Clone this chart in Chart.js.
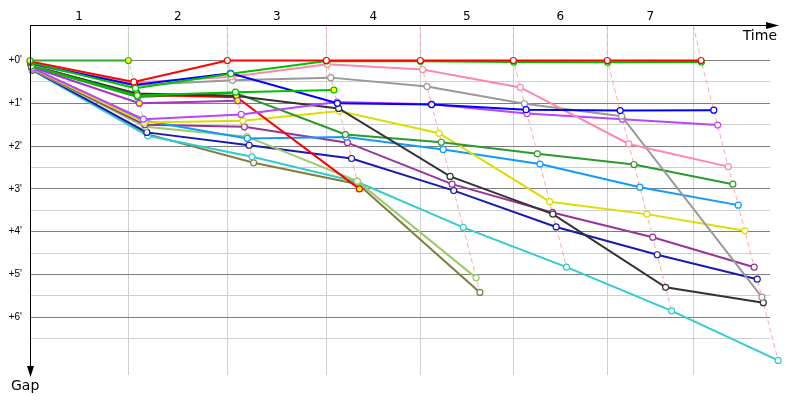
<!DOCTYPE html>
<html lang="en">
<head>
    <meta charset="utf-8" />
    <title>Gap chart</title>
    <script src="https://cdn.jsdelivr.net/npm/chart.js"></script>
    <style>
        body { margin: 0; background: #fff; }
    </style>
</head>
<body>
    <canvas id="gapChart" width="800" height="400"></canvas>
    <script>
        // lap labels and times (minutes) where the leader crosses the line
        const lapLabels = ['1', '2', '3', '4', '5', '6', '7'];
        const leaderTimes = [0, 8.94, 17.94, 26.94, 35.48, 43.94, 52.48, 61.0];
        const lapLineTimes = [8.94, 17.94, 26.94, 35.48, 43.94, 52.48, 60.3];
        const gapTicks = [0, 0.5, 1, 1.5, 2, 2.5, 3, 3.5, 4, 4.5, 5, 5.5, 6, 6.5];

        // gap to leader (minutes) at start and after each lap
        const gapsRed = [0.02, 0.50, 0, 0, 0, 0, 0, 0];
        const gapsGreen = [0.05, 0.65, 0.31, 0.01, 0.02, 0.035, 0.04, 0.035];
        const gapsGreenLead = [0, 0];
        const gapsGreen3 = [0.13, 0.82, 0.74, 0.69];
        const gapsBlue = [0.07, 0.57, 0.30, 1.00, 1.03, 1.15, 1.17, 1.16];
        const gapsPink = [0.06, 0.52, 0.38, 0.09, 0.21, 0.63, 1.95, 2.48];
        const gapsGray = [0.10, 0.58, 0.46, 0.40, 0.61, 1.01, 1.30, 5.53];
        const gapsViolet = [0.18, 1.37, 1.26, 0.97, 1.02, 1.24, 1.37, 1.51];
        const gapsMagenta = [0.15, 1.00, 0.94];
        const gapsBlack = [0.12, 0.77, 0.83, 1.12, 2.71, 3.59, 5.30, 5.66];
        const gapsRed2 = [0.11, 0.80, 0.86, 3.00];
        const gapsForest = [0.14, 0.85, 0.76, 1.73, 1.91, 2.18, 2.43, 2.89];
        const gapsYellow = [0.19, 1.45, 1.41, 1.18, 1.70, 3.30, 3.59, 3.98];
        const gapsSky = [0.17, 1.40, 1.82, 1.79, 2.08, 2.42, 2.96, 3.38];
        const gapsPurple = [0.20, 1.50, 1.55, 1.92, 2.89, 3.55, 4.13, 4.83];
        const gapsLightGreen = [0.21, 1.55, 1.78, 2.82, 5.08];
        const gapsDarkBlue = [0.22, 1.68, 1.98, 2.29, 3.04, 3.89, 4.54, 5.11];
        const gapsTeal = [0.23, 1.76, 2.25, 2.84, 3.90, 4.83, 5.85, 7.01];
        const gapsOlive = [0.22, 1.72, 2.39, 2.89, 5.42];

        // laps drawn with a filled marker
        const pitLaps = {
            greenLead: [0, 1], green3: [3], blue: [1], black: [1, 2], forest: [1],
            magenta: [1, 2], red2: [3]
        };

        const series = [
            { key: 'greenLead', gaps: gapsGreenLead, color: '#33aa33' },
            { key: 'red', gaps: gapsRed, color: '#ff0000' },
            { key: 'green', gaps: gapsGreen, color: '#00c000' },
            { key: 'green3', gaps: gapsGreen3, color: '#00c000' },
            { key: 'blue', gaps: gapsBlue, color: '#0000ff' },
            { key: 'pink', gaps: gapsPink, color: '#ff88aa' },
            { key: 'gray', gaps: gapsGray, color: '#999999' },
            { key: 'violet', gaps: gapsViolet, color: '#bb44ff' },
            { key: 'magenta', gaps: gapsMagenta, color: '#aa33cc' },
            { key: 'black', gaps: gapsBlack, color: '#333333' },
            { key: 'red2', gaps: gapsRed2, color: '#ff0000' },
            { key: 'forest', gaps: gapsForest, color: '#2a9a2a' },
            { key: 'yellow', gaps: gapsYellow, color: '#dddd00' },
            { key: 'sky', gaps: gapsSky, color: '#1199ff' },
            { key: 'purple', gaps: gapsPurple, color: '#993399' },
            { key: 'lightGreen', gaps: gapsLightGreen, color: '#99cc66' },
            { key: 'darkBlue', gaps: gapsDarkBlue, color: '#1a1ab0' },
            { key: 'teal', gaps: gapsTeal, color: '#33cccc' },
            { key: 'olive', gaps: gapsOlive, color: '#7f7f3f' }
        ];

        const Y_MIN = -0.83, Y_MAX = 7.35, X_MAX = 67.27;

        const driverSets = series.map(s => {
            const pits = pitLaps[s.key] || [];
            return {
                data: s.gaps.map((g, lap) => ({ x: leaderTimes[lap] + g, y: g })),
                borderColor: s.color,
                borderWidth: 2,
                pointRadius: 3,
                pointBorderWidth: 1.2,
                pointBorderColor: s.color,
                pointBackgroundColor: s.gaps.map((g, lap) => pits.includes(lap) ? '#ffff00' : '#ffffff'),
                clip: false
            };
        });

        // dashed line joining every car on the same lap
        const lapSets = lapLabels.map((lab, i) => {
            const lap = i + 1;
            const pts = series.filter(s => s.gaps.length > lap)
                .map(s => ({ x: leaderTimes[lap] + s.gaps[lap], y: s.gaps[lap] }))
                .sort((a, b) => a.y - b.y);
            return {
                data: [{ x: lapLineTimes[i], y: Y_MIN }].concat(pts),
                borderColor: lap === 1 ? '#b4dcac' : '#ffaaaa',
                borderWidth: 1,
                borderDash: [5, 3],
                pointRadius: 0,
                clip: false
            };
        });

        // x ticks: label in the middle of each lap, grid line at its end
        const xTicks = [];
        lapLineTimes.forEach((t, i) => {
            const start = i === 0 ? 0 : lapLineTimes[i - 1];
            xTicks.push((start + t) / 2);
            xTicks.push(t);
        });

        // let markers just past the right edge still be drawn
        const widenArea = {
            id: 'widenArea',
            beforeDatasetsDraw(chart) {
                chart.chartArea.right += 20;
                chart.chartArea.bottom += 10;
            },
            afterDatasetsDraw(chart) {
                chart.chartArea.right -= 20;
                chart.chartArea.bottom -= 10;
            }
        };

        const axisArrows = {
            id: 'axisArrows',
            afterDraw(chart) {
                const { ctx, chartArea: a } = chart;
                ctx.save();
                ctx.strokeStyle = '#000';
                ctx.fillStyle = '#000';
                ctx.lineWidth = 1;
                ctx.beginPath();
                ctx.moveTo(a.left, a.top + 0.5);
                ctx.lineTo(a.right + 6, a.top + 0.5);
                ctx.moveTo(a.left + 0.5, a.top);
                ctx.lineTo(a.left + 0.5, a.bottom - 4);
                ctx.stroke();
                ctx.beginPath();
                ctx.moveTo(a.right + 9, a.top + 0.5);
                ctx.lineTo(a.right - 4, a.top - 3);
                ctx.lineTo(a.right - 4, a.top + 4);
                ctx.closePath();
                ctx.fill();
                ctx.beginPath();
                ctx.moveTo(a.left + 0.5, a.bottom + 2);
                ctx.lineTo(a.left - 3, a.bottom - 9);
                ctx.lineTo(a.left + 4, a.bottom - 9);
                ctx.closePath();
                ctx.fill();
                ctx.font = '14px "DejaVu Sans"';
                ctx.textAlign = 'right';
                ctx.textBaseline = 'alphabetic';
                ctx.fillText('Time', a.right + 7, a.top + 15);
                ctx.textAlign = 'left';
                ctx.fillText('Gap', a.left - 19, a.bottom + 15);
                ctx.restore();
            }
        };

        new Chart(document.getElementById('gapChart'), {
            type: 'line',
            data: { datasets: driverSets.concat(lapSets) },
            options: {
                responsive: false,
                animation: false,
                devicePixelRatio: 1,
                layout: { padding: { left: 0, top: 0, right: 30, bottom: 25 } },
                elements: { line: { tension: 0 } },
                plugins: { legend: { display: false }, tooltip: { enabled: false } },
                scales: {
                    x: {
                        type: 'linear',
                        position: 'top',
                        min: 0,
                        max: X_MAX,
                        afterBuildTicks: s => { s.ticks = xTicks.map(v => ({ value: v })); },
                        afterFit: s => { s.height = 25; },
                        border: { display: false },
                        grid: {
                            drawTicks: false,
                            color: c => (c.index % 2 === 1 ? '#d0d0d0' : 'rgba(0,0,0,0)'),
                            lineWidth: 1
                        },
                        ticks: {
                            autoSkip: false,
                            maxRotation: 0,
                            padding: 1,
                            color: '#000',
                            font: { family: 'DejaVu Sans', size: 12 },
                            callback: (v, i) => (i % 2 === 0 ? lapLabels[i / 2] : '')
                        }
                    },
                    y: {
                        type: 'linear',
                        reverse: true,
                        min: Y_MIN,
                        max: Y_MAX,
                        afterBuildTicks: s => { s.ticks = gapTicks.map(v => ({ value: v })); },
                        afterFit: s => { s.width = 30; },
                        border: { display: false },
                        grid: {
                            drawTicks: false,
                            color: c => (c.tick && c.tick.value % 1 === 0 ? '#808080' : '#d0d0d0'),
                            lineWidth: 1
                        },
                        ticks: {
                            padding: 8,
                            color: '#000',
                            font: { family: 'Liberation Sans', size: 10 },
                            callback: v => (v % 1 === 0 ? "+" + v + "'" : '')
                        }
                    }
                }
            },
            plugins: [widenArea, axisArrows]
        });
    </script>
</body>
</html>
